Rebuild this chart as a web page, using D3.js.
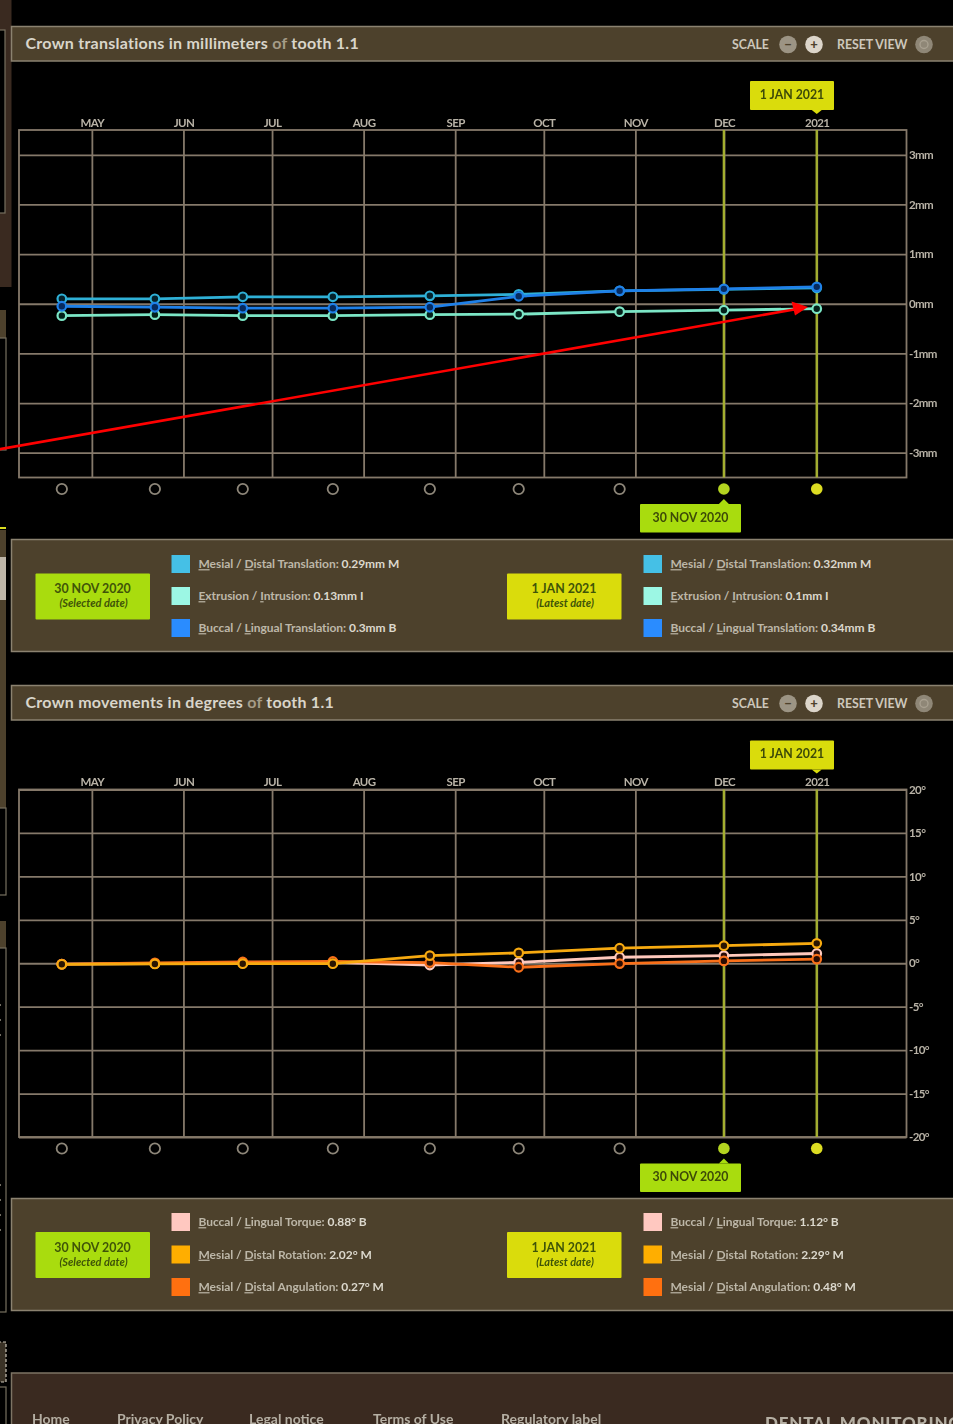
<!DOCTYPE html>
<html>
<head>
<meta charset="utf-8">
<title>Crown translations and movements</title>
<script src="https://cdn.jsdelivr.net/npm/d3@7"></script>
<style>
  html, body { margin: 0; padding: 0; background: #000; overflow: hidden; }
  svg { display: block; font-family: Lato, "Open Sans", sans-serif; filter: blur(0.45px); }
  .axis path { display: none; }
  .axis line { stroke: #85796a; stroke-width: 1.8; }
  .axis text { fill: #b9b3a7; font-family: Lato, sans-serif; font-size: 11.5px; font-weight: 700; letter-spacing: -0.6px; }
</style>
</head>
<body>
<svg id="page" width="953" height="1424"></svg>
<script>
// values
const visitDates = ["2020-04-20T20:00", "2020-05-22T08:00", "2020-06-21T02:00", "2020-07-21T14:00", "2020-08-23T10:00", "2020-09-22T12:00", "2020-10-26T16:00", "2020-11-30T23:00", "2021-01-01"];
const monthDates = ["2020-05-01", "2020-06-01", "2020-07-01", "2020-08-01", "2020-09-01", "2020-10-01", "2020-11-01", "2020-12-01", "2021-01-01"];
const monthLabels = ["MAY", "JUN", "JUL", "AUG", "SEP", "OCT", "NOV", "DEC", "2021"];

const mmTicks = [3, 2, 1, 0, -1, -2, -3];
const degTicks = [20, 15, 10, 5, 0, -5, -10, -15, -20];

const mesialDistalTranslation = [0.10, 0.10, 0.14, 0.14, 0.16, 0.19, 0.26, 0.29, 0.32];
const extrusionIntrusion = [-0.24, -0.22, -0.24, -0.24, -0.22, -0.21, -0.16, -0.13, -0.10];
const buccalLingualTranslation = [-0.05, -0.07, -0.09, -0.09, -0.07, 0.15, 0.26, 0.30, 0.34];

const buccalLingualTorque = [-0.10, -0.05, 0.05, 0.10, -0.20, 0.10, 0.69, 0.88, 1.12];
const mesialDistalAngulation = [-0.10, 0.05, 0.15, 0.20, 0.08, -0.46, -0.04, 0.27, 0.48];
const mesialDistalRotation = [-0.12, -0.08, -0.05, -0.05, 0.88, 1.19, 1.73, 2.02, 2.29];

const mmLegendNames = ["Mesial / Distal Translation", "Extrusion / Intrusion", "Buccal / Lingual Translation"];
const mmSelectedValues = ["0.29mm M", "0.13mm I", "0.3mm B"];
const mmLatestValues = ["0.32mm M", "0.1mm I", "0.34mm B"];
const degLegendNames = ["Buccal / Lingual Torque", "Mesial / Distal Rotation", "Mesial / Distal Angulation"];
const degSelectedValues = ["0.88° B", "2.02° M", "0.27° M"];
const degLatestValues = ["1.12° B", "2.29° M", "0.48° M"];

const footerLinks = ["Home", "Privacy Policy", "Legal notice", "Terms of Use", "Regulatory label"];
const footerLinkX = [32, 117, 249, 373, 501];

const OLIVE = "#4d412c", BORDER = "#8b8270", LIME = "#a9dc0e", YELLOW = "#dadc0c";
const parseDate = s => new Date(s.length > 10 ? s + "Z" : s + "T00:00Z");

const svg = d3.select("#page");

const left = 19, right = 906.5, plotH = 347.5;

const x = d3.scaleUtc()
  .domain([parseDate("2020-04-06T08:00"), parseDate("2020-12-01"), parseDate("2021-01-31")])
  .range([left, 724, right]);

function drawLeftEdge() {
  const g = svg.append("g");
  const rect = (px, py, w, h, fill, stroke) => g.append("rect")
    .attr("x", px).attr("y", py).attr("width", w).attr("height", h)
    .attr("fill", fill).attr("stroke", stroke || "none").attr("stroke-width", 1.2);
  rect(0, 0, 11.5, 287, "#3a2a20");
  rect(-2, 30, 7, 183, "#000", "#77705f");
  rect(-2, 310, 8, 28, OLIVE);
  rect(-2, 338, 8, 112, "#000", "#77705f");
  rect(-2, 530, 8, 278, OLIVE);
  rect(0, 527, 6, 2, "#d8dc20");
  rect(0, 557, 6, 43, "#bdb5a8");
  rect(-2, 808, 8, 87, "#000", "#77705f");
  rect(-2, 921, 8, 27, OLIVE);
  rect(-2, 948, 8, 364, "#000", "#77705f");
  g.selectAll("circle.dot")
    .data([1005, 1020, 1035, 1185, 1200, 1215, 1230])
    .join("circle").attr("class", "dot")
    .attr("cx", 0).attr("cy", d => d).attr("r", 1).attr("fill", "#9a9384");
  rect(-2, 1342, 8, 40, "#3a3226", "#c9c3b6").attr("stroke-dasharray", "3 2");
  rect(-2, 1387, 8, 50, "#000", "#77705f");
}

function drawHeader(top, titleBefore, titleAfter) {
  const g = svg.append("g").attr("transform", `translate(0,${top})`);
  g.append("rect").attr("x", 11.5).attr("y", 0).attr("width", 945).attr("height", 34.5)
    .attr("fill", OLIVE).attr("stroke", BORDER).attr("stroke-width", 1.5);

  const title = g.append("text").attr("x", 25.5).attr("y", 22)
    .attr("font-size", 16).attr("font-weight", 700).attr("letter-spacing", 0.26).attr("fill", "#d9d5ca");
  title.append("tspan").text(titleBefore + " ");
  title.append("tspan").attr("fill", "#a59c88").text("of");
  title.append("tspan").text(" " + titleAfter);

  const small = (tx, t) => g.append("text").attr("x", tx).attr("y", 22)
    .attr("font-size", 12.3).attr("font-weight", 700)
    .attr("fill", "#cdc8bc").text(t);
  small(732, "SCALE");
  small(837, "RESET VIEW");

  const btn = (cx, fill, glyph) => {
    g.append("circle").attr("cx", cx).attr("cy", 18).attr("r", 8.8).attr("fill", fill);
    g.append("text").attr("x", cx).attr("y", 22.5).attr("text-anchor", "middle")
      .attr("font-size", 13).attr("font-weight", 900).attr("fill", "#4d412c").text(glyph);
  };
  btn(788, "#9c9484", "−");
  btn(814, "#dcd5ca", "+");
  g.append("circle").attr("cx", 924).attr("cy", 18).attr("r", 8.8).attr("fill", "#8f8777");
  g.append("circle").attr("cx", 924).attr("cy", 18).attr("r", 4).attr("fill", "none")
    .attr("stroke", "#a8a090").attr("stroke-width", 1.4);
}

function drawTooltip(g, boxX, boxY, boxW, boxH, tipX, up, fill, label) {
  const tipY = up ? boxY - 5 : boxY + boxH + 4;
  const baseY = up ? boxY : boxY + boxH;
  g.append("rect").attr("x", boxX).attr("y", boxY).attr("width", boxW).attr("height", boxH)
    .attr("rx", 1).attr("fill", fill);
  g.append("path").attr("fill", fill)
    .attr("d", `M${tipX - 5},${baseY}L${tipX},${tipY}L${tipX + 5},${baseY}Z`);
  g.append("text").attr("x", boxX + boxW / 2).attr("y", boxY + boxH / 2 + 3.4)
    .attr("text-anchor", "middle").attr("font-size", 12.3).attr("font-weight", 700)
    .attr("fill", "#3d4a08").text(label);
}

function drawChart(top, domain, ticks, unit, series) {
  const g = svg.append("g").attr("transform", `translate(0,${top})`);
  const y = d3.scaleLinear().domain(domain).range([plotH, 0]);
  const dates = visitDates.map(parseDate);

  // y grid + labels
  g.append("g").attr("class", "axis").attr("transform", `translate(${right},0)`)
    .call(d3.axisRight(y).tickValues(ticks).tickSize(-(right - left)).tickPadding(2.5)
      .tickFormat(d => d + unit));

  // month grid + labels
  g.append("g").attr("class", "axis months")
    .call(d3.axisTop(x).tickValues(monthDates.map(parseDate)).tickSize(-plotH).tickPadding(3.5)
      .tickFormat((d, i) => monthLabels[i]));

  g.append("rect").attr("x", left).attr("y", 0).attr("width", right - left).attr("height", plotH)
    .attr("fill", "none").attr("stroke", "#85796a").attr("stroke-width", 1.8);

  // highlighted dates
  const marked = dates.slice(-2);
  g.selectAll("line.sel").data(marked).join("line").attr("class", "sel")
    .attr("x1", d => x(d)).attr("x2", d => x(d)).attr("y1", 0).attr("y2", plotH)
    .attr("stroke", "#a3ae30").attr("stroke-width", 2.4);

  const line = d3.line().x((d, i) => x(dates[i])).y(d => y(d));
  series.forEach(s => {
    g.append("path").datum(s.values).attr("fill", "none").attr("stroke", s.color)
      .attr("stroke-width", 2.8).attr("d", line);
    g.selectAll(null).data(s.values).join("circle")
      .attr("cx", (d, i) => x(dates[i])).attr("cy", d => y(d)).attr("r", 4.3)
      .attr("fill", s.dot).attr("stroke", s.color).attr("stroke-width", 2.2);
  });

  // date pickers under the plot
  g.selectAll("circle.visit").data(dates).join("circle").attr("class", "visit")
    .attr("cx", d => x(d)).attr("cy", plotH + 11.5).attr("r", (d, i) => i > 6 ? 5.8 : 5.2)
    .attr("fill", (d, i) => i === 7 ? "#b4d420" : i === 8 ? "#dcdc22" : "none")
    .attr("stroke", (d, i) => i > 6 ? "none" : "#8d8679").attr("stroke-width", 1.8);

  drawTooltip(g, 750, -49, 84, 29, x(dates[8]), false, YELLOW, "1 JAN 2021");
  drawTooltip(g, 640, 374, 101, 28.5, x(dates[7]), true, LIME, "30 NOV 2020");
}

function drawLegendColumn(g, dateX, fill, dateLabel, note, swatchX, names, values, colors, rowY) {
  const boxH = 46, boxY = d3.mean(rowY) - boxH / 2 + 0.5;
  g.append("rect").attr("x", dateX).attr("y", boxY).attr("width", 114.5).attr("height", boxH)
    .attr("rx", 1).attr("fill", fill);
  g.append("text").attr("x", dateX + 57).attr("y", boxY + 19.5).attr("text-anchor", "middle")
    .attr("font-size", 12.4).attr("font-weight", 700).attr("fill", "#3f5408").text(dateLabel);
  g.append("text").attr("x", dateX + 58).attr("y", boxY + 33.5).attr("text-anchor", "middle")
    .attr("font-size", 11).attr("font-weight", 700).attr("font-style", "italic")
    .attr("fill", "#3f5408").text(note);

  names.forEach((name, i) => {
    g.append("rect").attr("x", swatchX).attr("y", rowY[i] - 9).attr("width", 18.5).attr("height", 18)
      .attr("fill", colors[i]);
    const t = g.append("text").attr("x", swatchX + 27).attr("y", rowY[i] + 4.2)
      .attr("font-size", 12).attr("font-weight", 700).attr("letter-spacing", -0.05).attr("fill", "#bdb7a8");
    const parts = name.split(" / ");
    t.append("tspan").attr("text-decoration", "underline").text(parts[0][0]);
    t.append("tspan").text(parts[0].slice(1) + " / ");
    t.append("tspan").attr("text-decoration", "underline").text(parts[1][0]);
    t.append("tspan").text(parts[1].slice(1) + ": ");
    t.append("tspan").attr("fill", "#dcd8cd").text(values[i]);
  });
}

function drawLegend(top, height, rowY, names, selected, latest, colors) {
  const g = svg.append("g");
  g.append("rect").attr("x", 11.5).attr("y", top).attr("width", 945).attr("height", height)
    .attr("fill", OLIVE).attr("stroke", BORDER).attr("stroke-width", 1.5);
  drawLegendColumn(g, 35.5, LIME, "30 NOV 2020", "(Selected date)", 171.5, names, selected, colors, rowY);
  drawLegendColumn(g, 507, YELLOW, "1 JAN 2021", "(Latest date)", 643.5, names, latest, colors, rowY);
}

function drawFooter() {
  const g = svg.append("g");
  g.append("rect").attr("x", 11.5).attr("y", 1373).attr("width", 945).attr("height", 60)
    .attr("fill", "#3a2a20").attr("stroke", "#7d7464").attr("stroke-width", 1.5);
  g.selectAll("text.link").data(footerLinks).join("text").attr("class", "link")
    .attr("x", (d, i) => footerLinkX[i]).attr("y", 1424)
    .attr("font-size", 14).attr("font-weight", 700).attr("fill", "#b5afa3").text(d => d);
  g.append("text").attr("x", 765).attr("y", 1429).attr("font-size", 17).attr("font-weight", 900)
    .attr("letter-spacing", 0.8).attr("fill", "#b5afa3").text("DENTAL MONITORING");
}

drawLeftEdge();
drawHeader(26.5, "Crown translations in millimeters", "tooth 1.1");
drawChart(130, [-3.5, 3.5], mmTicks, "mm", [
  { values: mesialDistalTranslation, color: "#2fb0d6", dot: "#04222c" },
  { values: extrusionIntrusion, color: "#7ce6c6", dot: "#03201a" },
  { values: buccalLingualTranslation, color: "#1f80e8", dot: "#062a5e" }
]);
drawLegend(539.5, 112, [564, 596, 628], mmLegendNames, mmSelectedValues, mmLatestValues,
  ["#45c0e6", "#9cf7e4", "#2a8cff"]);

drawHeader(685.5, "Crown movements in degrees", "tooth 1.1");
drawChart(789.5, [-20, 20], degTicks, "°", [
  { values: buccalLingualTorque, color: "#ffc9bd", dot: "#2a0c08" },
  { values: mesialDistalAngulation, color: "#f9701a", dot: "#2a0c02" },
  { values: mesialDistalRotation, color: "#f7aa10", dot: "#2a1502" }
]);
drawLegend(1198.5, 112, [1222, 1254.5, 1287], degLegendNames, degSelectedValues, degLatestValues,
  ["#ffc8c0", "#ffae00", "#ff7010"]);

drawFooter();

// red annotation arrow laid over the first chart
const arrow = svg.append("g");
arrow.append("line").attr("x1", -2).attr("y1", 449.5).attr("x2", 797).attr("y2", 309)
  .attr("stroke", "#ff0000").attr("stroke-width", 2.6);
arrow.append("path").attr("fill", "#ff0000").attr("d", "M808,307L791.5,301.5L795,315.5Z");
</script>
</body>
</html>
